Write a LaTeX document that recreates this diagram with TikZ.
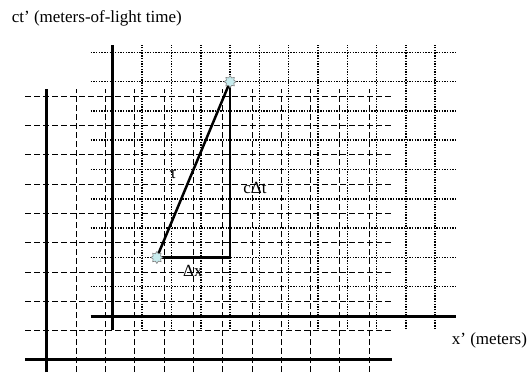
\documentclass[tikz,border=0pt]{standalone}
\usepackage{fontspec}
\setmainfont{Liberation Serif}
\usetikzlibrary{shapes.geometric}
\definecolor{eventfill}{RGB}{200,236,238}

\begin{document}
\begin{tikzpicture}[x=29.3pt,y=29.3pt,
  axis/.style={line width=3pt},
  restgrid/.style={line width=1pt,dash pattern=on 6pt off 3pt},
  movegrid/.style={line width=1.5pt,dash pattern=on 1.4pt off 1.3pt},
  worldline/.style={line width=2.5pt},
  event/.style={star,star points=8,star point ratio=1.5,minimum size=12pt,inner sep=0pt,fill=eventfill,draw=gray,line width=0.6pt},
  lab/.style={font=\fontsize{17}{20}\selectfont,inner sep=1pt}]
\useasboundingbox (-1.604,-0.41) rectangle (16.383,12.287);
% rest frame, dashed
\foreach \k in {1,...,11} \draw[restgrid] (\k,-0.41)--(\k,9.25);
\foreach \k in {1,...,9} \draw[restgrid] (-0.75,\k)--(11.76,\k);
\draw[axis] (-0.75,0)--(11.76,0);
\draw[axis] (0,-0.41)--(0,9.25);
% moving frame, dotted
\begin{scope}[shift={(2.25,1.5)}]
\foreach \k in {1,...,11} \draw[movegrid] (\k,-0.45)--(\k,9.25);
\foreach \k in {1,...,9} \draw[movegrid] (-0.76,\k)--(11.7,\k);
\draw[axis] (-0.76,0)--(11.72,0);
\draw[axis] (0,-0.48)--(0,9.25);
\coordinate (A) at (1.5,2);
\coordinate (B) at (4,8);
\coordinate (C) at (4,2);
\draw[worldline] (A)--(B);
\draw[worldline] (A)--(C)--(B);
\node[event] (ev1) at (A) {};
\node[event] (ev2) at (B) {};
\node[lab] (tau) at (2.05,4.81) {τ};
\node[lab] (dt) at (4.85,4.37) {cΔt};
\node[lab] (dx) at (2.73,1.54) {Δx};
\end{scope}
\node[lab,anchor=west] (tlab) at (-1.24,11.67) {ct’ (meters-of-light time)};
\node[lab,anchor=west] (xlab) at (13.78,0.66) {x’ (meters)};
\end{tikzpicture}
\end{document}
